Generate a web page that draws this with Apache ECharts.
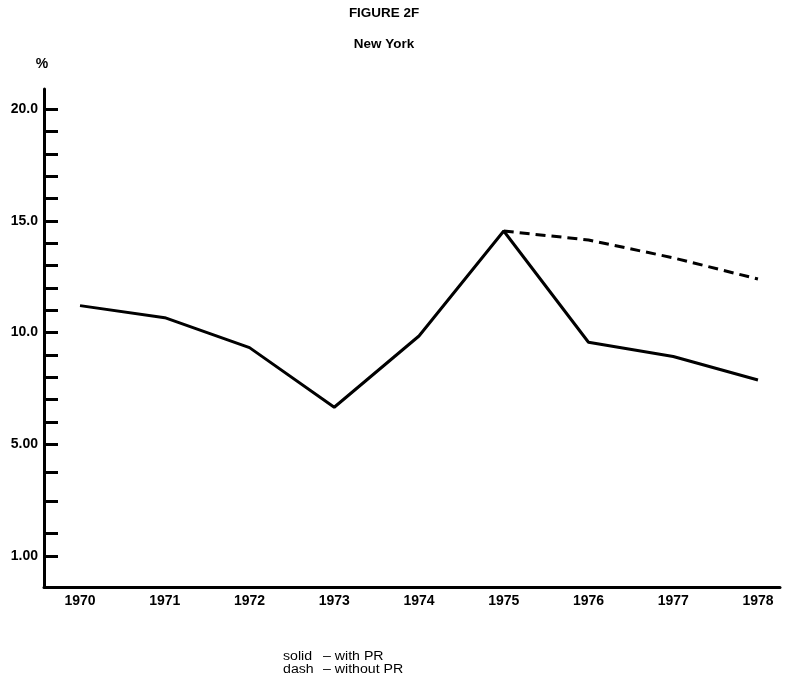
<!DOCTYPE html>
<html><head><meta charset="utf-8">
<script src="https://cdn.jsdelivr.net/npm/echarts@6/dist/echarts.min.js"></script>
<style>html,body{margin:0;padding:0;background:#fff}#c{width:787px;height:684px}</style>
</head><body><div id="c"></div>
<script>
const years = [1970, 1971, 1972, 1973, 1974, 1975, 1976, 1977, 1978];
const withPR = [11.21, 10.67, 9.33, 6.66, 9.85, 14.55, 9.57, 8.93, 7.88];
const withoutPR = [null, null, null, null, null, 14.55, 14.15, 13.35, 12.4];
const yLabelValues = [0, 5, 10, 15, 20];
const yLabelTexts = ['1.00', '5.00', '10.0', '15.0', '20.0'];
const yTickValues = [0, 1.03, 2.46, 3.76, 5, 6, 7, 8, 9, 10, 11, 12, 13, 14, 15, 16, 17, 18, 19, 20];

const toPairs = arr => years.map((y, i) => [y, arr[i]]).filter(p => p[1] != null);
const FONT = '"Liberation Sans", Arial, sans-serif';
const chart = echarts.init(document.getElementById('c'), null, {renderer: 'canvas'});
const txt = (text, x, y, font, align, sx) => ({
  type: 'text', x: x, y: y, scaleX: sx,
  style: {text: text, font: font, fill: '#000', textAlign: align, textVerticalAlign: 'middle'}
});
chart.setOption({
  animation: false,
  backgroundColor: '#fff',
  grid: {left: 44, top: 89, right: 7, height: 498},
  xAxis: {
    type: 'value', min: 1969.575, max: 1978.26,
    axisLine: {onZero: false, lineStyle: {color: '#000', width: 3}},
    axisTick: {show: false},
    splitLine: {show: false},
    axisLabel: {customValues: years, formatter: v => String(Math.round(v)), color: '#000',
      fontFamily: FONT, fontWeight: 'bold', fontSize: 14, margin: 7}
  },
  yAxis: {
    type: 'value', min: -1.39, max: 20.91,
    axisLine: {show: true, lineStyle: {color: '#000', width: 3}},
    axisTick: {show: true, inside: true, length: 14, customValues: yTickValues, lineStyle: {color: '#000', width: 3}},
    splitLine: {show: false},
    axisLabel: {customValues: yLabelValues,
      formatter: v => yLabelTexts[yLabelValues.indexOf(Math.round(v))] || '',
      color: '#000', fontFamily: FONT, fontWeight: 'bold', fontSize: 14, margin: 6}
  },
  series: [
    {type: 'line', data: toPairs(withPR), symbol: 'none', lineStyle: {color: '#000', width: 3}},
    {type: 'line', data: toPairs(withoutPR), symbol: 'none', lineStyle: {color: '#000', width: 3, type: [10, 6]}}
  ],
  graphic: [
    txt('FIGURE 2F', 384, 14, 'bold 12px ' + FONT, 'center', 1.12),
    txt('New York', 384, 45, 'bold 12px ' + FONT, 'center', 1.12),
    txt('%', 42, 64, 'bold 14px ' + FONT, 'center', 1),
    txt('solid', 283, 657, '12px ' + FONT, 'left', 1.18),
    txt('\u2013 with PR', 323, 657, '12px ' + FONT, 'left', 1.18),
    txt('dash', 283, 670, '12px ' + FONT, 'left', 1.18),
    txt('\u2013 without PR', 323, 670, '12px ' + FONT, 'left', 1.18)
  ]
});
</script></body></html>
